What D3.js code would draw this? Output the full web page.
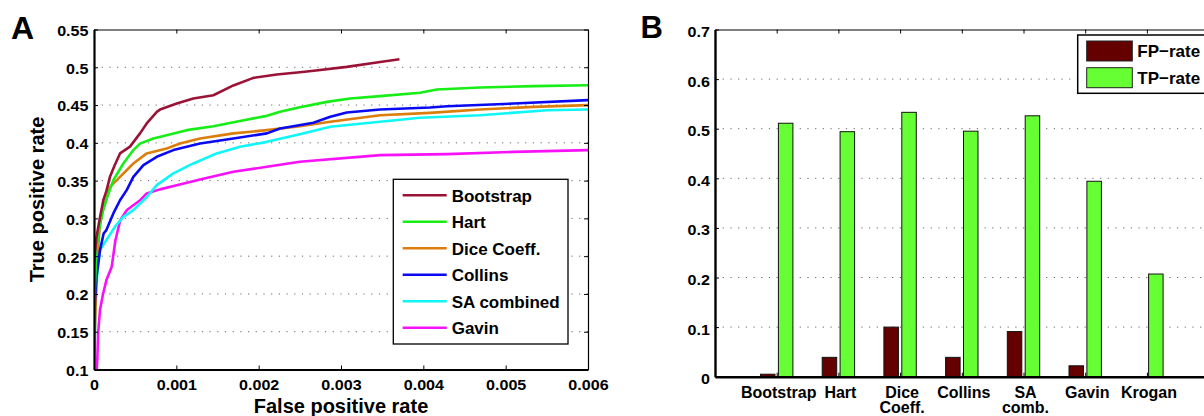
<!DOCTYPE html>
<html><head><meta charset="utf-8">
<script src="https://cdn.jsdelivr.net/npm/d3@7"></script>
<style>
body{margin:0;background:#fff}
text{font-family:"Liberation Sans",Arial,Helvetica,sans-serif;font-weight:bold;fill:#000}
</style>
</head><body>
<svg id="chart" width="1204" height="416"></svg>
<script>
// ---------- Panel A data: ROC curves [fpr, tpr] ----------
const seriesNames = ["Bootstrap","Hart","Dice Coeff.","Collins","SA combined","Gavin"];
const bootstrap = [[0,0.24],[0.00003,0.275],[0.00007,0.30],[0.000113,0.324],[0.00015,0.336],[0.000194,0.355],[0.00025,0.37],[0.000316,0.386],[0.000437,0.395],[0.000559,0.4125],[0.00064,0.4257],[0.000763,0.441],[0.000802,0.444],[0.001005,0.452],[0.001207,0.4587],[0.00145,0.463],[0.001693,0.476],[0.001936,0.486],[0.00222,0.4905],[0.0025,0.4935],[0.00267,0.4955],[0.00307,0.5005],[0.003475,0.507],[0.00371,0.5107]];
const hart = [[0,0.1],[0.000008,0.2],[0.00003,0.26],[0.00007,0.29],[0.00011,0.31],[0.00016,0.328],[0.000235,0.3507],[0.000356,0.3727],[0.000478,0.3904],[0.000559,0.399],[0.00072,0.4058],[0.000883,0.41],[0.001126,0.4168],[0.00145,0.422],[0.001774,0.429],[0.0021,0.4357],[0.00226,0.441],[0.0025,0.4472],[0.00283,0.4542],[0.00311,0.4587],[0.003475,0.4618],[0.00396,0.4662],[0.004164,0.4706],[0.00469,0.4733],[0.00534,0.475],[0.006,0.4763]];
const dice = [[0,0.1],[0.00001,0.15],[0.00003,0.22],[0.00005,0.26],[0.00007,0.29],[0.0001,0.31],[0.00015,0.325],[0.000194,0.3418],[0.000316,0.355],[0.000478,0.3727],[0.00064,0.386],[0.000883,0.3926],[0.001045,0.399],[0.001288,0.4058],[0.001693,0.4125],[0.0021,0.4168],[0.0025,0.422],[0.00287,0.4278],[0.003475,0.4366],[0.00408,0.4397],[0.00469,0.4442],[0.00534,0.4476],[0.006,0.4499]];
const collins = [[0,0.16],[0.000012,0.192],[0.00003,0.223],[0.000073,0.258],[0.000117,0.28],[0.00015,0.2845],[0.000235,0.3066],[0.000316,0.324],[0.000397,0.3374],[0.000478,0.355],[0.0006,0.3705],[0.000762,0.3815],[0.000964,0.3904],[0.001288,0.399],[0.001693,0.4058],[0.0021,0.4125],[0.00226,0.419],[0.002665,0.4265],[0.00287,0.4344],[0.00307,0.4402],[0.003475,0.4442],[0.00408,0.4468],[0.00429,0.4485],[0.0051,0.452],[0.006,0.4565]];
const saCombined = [[0,0.1],[0.000004,0.121],[0.000012,0.152],[0.00002,0.192],[0.00004,0.2273],[0.000073,0.258],[0.00015,0.2713],[0.000255,0.289],[0.000356,0.302],[0.000478,0.311],[0.00064,0.328],[0.000762,0.344],[0.000964,0.3595],[0.001207,0.3727],[0.00149,0.386],[0.001774,0.3947],[0.0021,0.4013],[0.0025,0.4115],[0.00287,0.4212],[0.003475,0.4278],[0.00396,0.4331],[0.00469,0.4366],[0.0055,0.4432],[0.006,0.4442]];
const gavin = [[0.000033,0.1],[0.00004,0.113],[0.00005,0.148],[0.000073,0.179],[0.00011,0.2],[0.00015,0.218],[0.000215,0.236],[0.00026,0.271],[0.00032,0.298],[0.0004,0.311],[0.00056,0.324],[0.00064,0.333],[0.0008,0.3384],[0.001005,0.344],[0.001288,0.3516],[0.001693,0.3617],[0.0021,0.3683],[0.0025,0.3749],[0.003475,0.3837],[0.00429,0.385],[0.0051,0.388],[0.006,0.3904]];
const xTicksA = [0,0.001,0.002,0.003,0.004,0.005,0.006];
const xTickLabelsA = ["0","0.001","0.002","0.003","0.004","0.005","0.006"];
const yTicksA = [0.1,0.15,0.2,0.25,0.3,0.35,0.4,0.45,0.5,0.55];
const yTickLabelsA = ["0.1","0.15","0.2","0.25","0.3","0.35","0.4","0.45","0.5","0.55"];

// ---------- Panel B data ----------
const categories = [["Bootstrap"],["Hart"],["Dice","Coeff."],["Collins"],["SA","comb."],["Gavin"],["Krogan"]];
const fpRate = [0.005,0.039,0.1,0.039,0.091,0.022,0];
const tpRate = [0.511,0.494,0.533,0.495,0.526,0.394,0.207];
const barSeries = ["FP\u2212rate","TP\u2212rate"];
const yTicksB = [0,0.1,0.2,0.3,0.4,0.5,0.6,0.7];
const yTickLabelsB = ["0","0.1","0.2","0.3","0.4","0.5","0.6","0.7"];

// ---------- styles ----------
const lineColors = ["#9b1237","#16ee16","#dc7d0c","#0a0af2","#10f6f6","#f810f8"];
const barColors = ["#640000","#66ff33"];
const TICK_SX = 1.15;

const svg = d3.select("#chart");

function stretchText(sel){
  sel.each(function(){
    const t = d3.select(this);
    const x = +t.attr("x") || 0;
    t.attr("x",0).attr("transform",`translate(${x},0) scale(${TICK_SX},1)`);
  });
}
function gridLines(g, ticks, y, x0, x1){
  g.selectAll(null).data(ticks).enter().append("line")
    .attr("x1",x0).attr("x2",x1).attr("y1",d=>y(d)).attr("y2",d=>y(d))
    .attr("stroke","#666").attr("stroke-width",1).attr("stroke-dasharray","1.2,6.5");
}

// ================= Panel A =================
const xA = d3.scaleLinear().domain([0,0.006]).range([94,588]);
const yA = d3.scaleLinear().domain([0.1,0.55]).range([369.5,29.5]);
const gA = svg.append("g");

gridLines(gA, yTicksA.slice(1,-1), yA, 94, 588);

gA.append("clipPath").attr("id","clipA").append("rect")
  .attr("x",94).attr("y",29.5).attr("width",494).attr("height",340);
const lineA = d3.line().x(d=>xA(d[0])).y(d=>yA(d[1]));
const curves = [bootstrap,hart,dice,collins,saCombined,gavin];
const order = [5,4,2,3,1,0];
order.forEach(i=>{
  gA.append("path").attr("d",lineA(curves[i])).attr("fill","none")
    .attr("stroke",lineColors[i]).attr("stroke-width",2.6)
    .attr("stroke-linejoin","round").attr("clip-path","url(#clipA)");
});

// axes A
const axBA = gA.append("g").attr("transform",`translate(0,${yA(0.1)})`)
  .call(d3.axisBottom(xA).tickValues(xTicksA).tickSizeInner(-4).tickSizeOuter(0)
    .tickFormat((d,i)=>xTickLabelsA[i]));
axBA.selectAll("text").attr("y",21).attr("dy",null).style("font-size","14px").call(stretchText);
const axLA = gA.append("g").attr("transform",`translate(${xA(0)},0)`)
  .call(d3.axisLeft(yA).tickValues(yTicksA).tickSizeInner(-4).tickSizeOuter(0)
    .tickFormat((d,i)=>yTickLabelsA[i]));
axLA.selectAll("text").attr("x",-5.5).attr("dy","0.42em").style("font-size","14px").call(stretchText);
gA.append("g").attr("transform",`translate(0,${yA(0.55)})`)
  .call(d3.axisTop(xA).tickValues(xTicksA).tickSizeInner(-4).tickSizeOuter(0).tickFormat(""));
gA.append("g").attr("transform",`translate(${xA(0.006)},0)`)
  .call(d3.axisRight(yA).tickValues(yTicksA).tickSizeInner(-4).tickSizeOuter(0).tickFormat(""));
gA.selectAll(".domain").attr("stroke","#000").attr("stroke-width",1.2);
axBA.select(".domain").attr("stroke-width",2.2);
axLA.select(".domain").attr("stroke-width",2.2);
gA.selectAll(".tick line").attr("stroke","#000");

// axis labels A
gA.append("text").attr("x",341).attr("y",413.3).attr("text-anchor","middle")
  .style("font-size","20px").text("False positive rate");
gA.append("text").attr("transform","translate(44,199.5) rotate(-90)").attr("text-anchor","middle")
  .style("font-size","20px").text("True positive rate");
svg.append("text").attr("x",11).attr("y",39).style("font-size","32px").text("A");

// legend A
const legA = gA.append("g");
legA.append("rect").attr("x",393.3).attr("y",179.3).attr("width",174.7).attr("height",164.7)
  .attr("fill","#fff").attr("stroke","#000").attr("stroke-width",1.3);
seriesNames.forEach((name,i)=>{
  const y = 195.3 + i*26.5;
  legA.append("line").attr("x1",402.7).attr("x2",446.7).attr("y1",y).attr("y2",y)
    .attr("stroke",lineColors[i]).attr("stroke-width",2.6);
  legA.append("text").attr("x",451.7).attr("y",y+6.2).style("font-size","17px").text(name);
});

// ================= Panel B =================
const xB = d3.scaleLinear().domain([0,8]).range([715,1208.6]);
const yB = d3.scaleLinear().domain([0,0.7]).range([376.7,29.5]);
const gB = svg.append("g");
gridLines(gB, yTicksB.slice(1,-1), yB, 715, 1204);

const catIdx = categories.map((c,i)=>i+1);
const barW = 0.235, off = 0.145;
const barData = [];
catIdx.forEach((c,i)=>{
  barData.push({x:c-off, v:fpRate[i], s:0});
  barData.push({x:c+off, v:tpRate[i], s:1});
});
gB.selectAll("rect.bar").data(barData.filter(d=>d.v>0)).enter().append("rect")
  .attr("class","bar")
  .attr("x",d=>xB(d.x-barW/2)).attr("width",d=>xB(d.x+barW/2)-xB(d.x-barW/2))
  .attr("y",d=>yB(d.v)).attr("height",d=>yB(0)-yB(d.v))
  .attr("fill",d=>barColors[d.s]).attr("stroke","#111").attr("stroke-width",1);

const axBB = gB.append("g").attr("transform",`translate(0,${yB(0)})`)
  .call(d3.axisBottom(xB).tickValues(catIdx).tickSizeInner(-4).tickSizeOuter(0).tickFormat(""));
axBB.selectAll(".tick").each(function(d,i){
  const t = d3.select(this).append("text").attr("text-anchor","middle").style("font-size","16px");
  categories[i].forEach((ln,j)=>{
    t.append("tspan").attr("x",1.5).attr("y",21.6 + j*15).text(ln);
  });
});
const axLB = gB.append("g").attr("transform",`translate(${xB(0)},0)`)
  .call(d3.axisLeft(yB).tickValues(yTicksB).tickSizeInner(-4).tickSizeOuter(0)
    .tickFormat((d,i)=>yTickLabelsB[i]));
axLB.selectAll("text").attr("x",-5).attr("dy","0.5em").style("font-size","14px").call(stretchText);
gB.append("g").attr("transform",`translate(0,${yB(0.7)})`)
  .call(d3.axisTop(xB).tickValues(catIdx).tickSizeInner(-4).tickSizeOuter(0).tickFormat(""));
gB.selectAll(".domain").attr("stroke","#000").attr("stroke-width",1.2);
axBB.select(".domain").attr("stroke-width",2.4);
axLB.select(".domain").attr("stroke-width",2.4);
gB.selectAll(".tick line").attr("stroke","#000");

svg.append("text").attr("x",640.5).attr("y",37.5).style("font-size","31px").text("B");

// legend B
const legB = gB.append("g");
legB.append("rect").attr("x",1077.7).attr("y",35).attr("width",140).attr("height",58.3)
  .attr("fill","#fff").attr("stroke","#000").attr("stroke-width",1.5);
barSeries.forEach((name,i)=>{
  const y = 41 + i*26.7;
  legB.append("rect").attr("x",1086.7).attr("y",y).attr("width",45.6).attr("height",20)
    .attr("fill",barColors[i]).attr("stroke","#222").attr("stroke-width",1);
  legB.append("text").attr("x",1137.3).attr("y",y+16.3).style("font-size","17px").text(name);
});
</script>
</body></html>
